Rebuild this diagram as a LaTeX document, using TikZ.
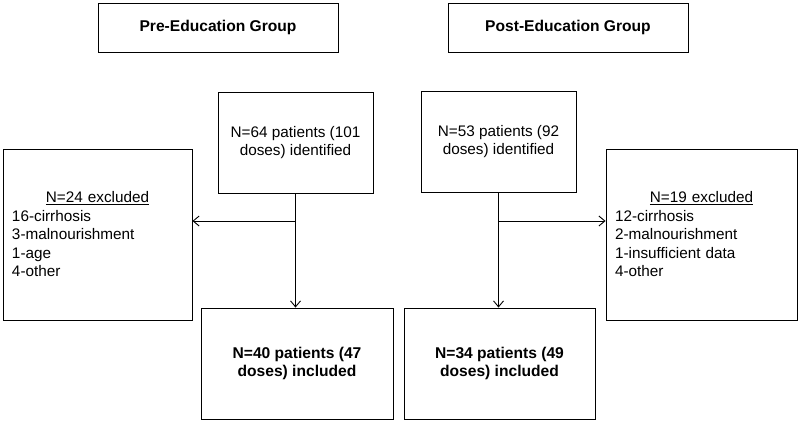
\documentclass[tikz,border=0pt]{standalone}
\usepackage{fontspec}
\setmainfont{Liberation Sans}
\usetikzlibrary{arrows.meta}
\begin{document}
\begin{tikzpicture}[x=1pt,y=-1pt,
  box/.style={draw=black, line width=0.9pt, inner sep=0pt, align=center,
    font=\fontsize{15.3}{18.5}\selectfont},
  hdr/.style={box, font=\fontsize{15.6}{18.5}\selectfont\bfseries},
  exbox/.style={draw=black, line width=0.9pt, inner xsep=9pt, inner ysep=0pt,
    align=left, font=\fontsize{15.3}{18.5}\selectfont},
  conn/.style={line width=0.9pt, -{Straight Barb[length=6pt,width=10pt,line width=0.9pt]}}]
\useasboundingbox (0,0) rectangle (800,423);
\node[hdr, minimum width=240pt, minimum height=49pt] (pre) at (218,27.5) {Pre-Education Group};
\node[hdr, minimum width=240pt, minimum height=49pt] (post) at (568,27.5) {Post-Education Group};
\node[box, minimum width=155pt, minimum height=101pt] (idL) at (295.5,142.5) {N=64 patients (101\\doses) identified};
\node[box, minimum width=155pt, minimum height=101pt] (idR) at (498.5,141.5) {N=53 patients (92\\doses) identified};
\node[exbox, text width=171pt, minimum height=171pt] (exL) at (97.5,234.5)
  {\makebox[\linewidth]{\underline{N=24 excluded}}\\16-cirrhosis\\3-malnourishment\\1-age\\4-other};
\node[exbox, text width=173pt, minimum height=171pt] (exR) at (701.5,234.5)
  {\makebox[\linewidth]{\underline{N=19 excluded}}\\12-cirrhosis\\2-malnourishment\\1-insufficient data\\4-other};
\node[hdr, minimum width=192pt, minimum height=111pt] (incL) at (297,363.5) {N=40 patients (47\\doses) included};
\node[hdr, minimum width=191pt, minimum height=111pt] (incR) at (499.5,363.5) {N=34 patients (49\\doses) included};
\coordinate (jL) at (295.5,221);
\coordinate (jR) at (498.5,221);
\draw[conn] (idL.south) -- (idL.south |- incL.north);
\draw[conn] (jL) -- (jL -| exL.east);
\draw[conn] (idR.south) -- (idR.south |- incR.north);
\draw[conn] (jR) -- (jR -| exR.west);
\end{tikzpicture}
\end{document}
